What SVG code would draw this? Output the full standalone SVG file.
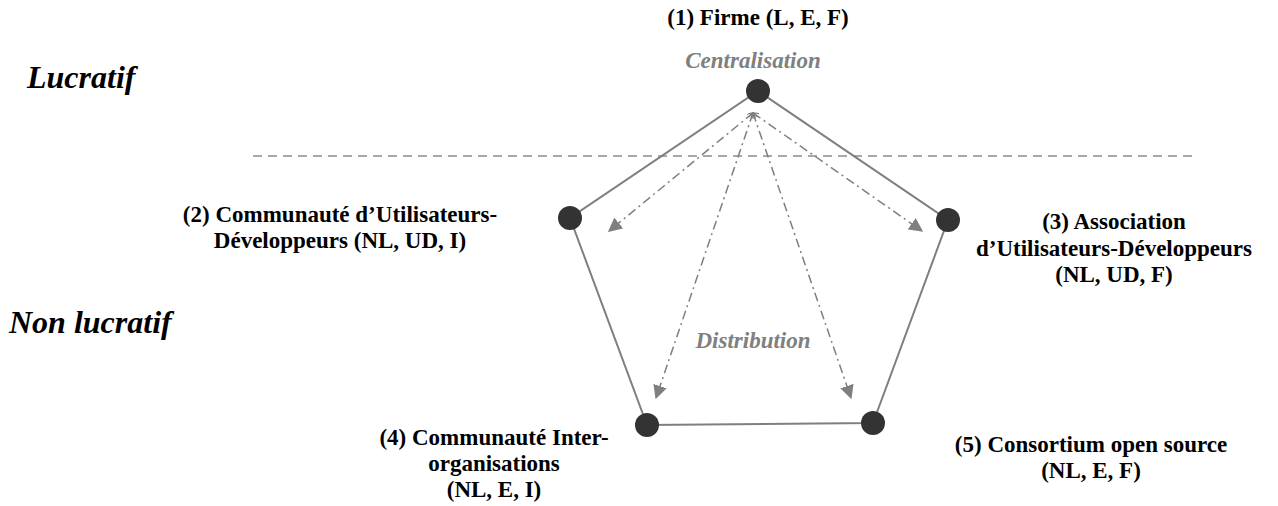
<svg xmlns="http://www.w3.org/2000/svg" width="1278" height="506" viewBox="0 0 1278 506">
<defs>
<marker id="ah" viewBox="0 0 10 10" refX="9" refY="5" markerWidth="14" markerHeight="14" markerUnits="userSpaceOnUse" orient="auto">
<path d="M0,0 L10,5 L0,10 z" fill="#7f7f7f"/>
</marker>
<marker id="at" viewBox="0 0 10 10" refX="1" refY="5" markerWidth="6" markerHeight="6" markerUnits="userSpaceOnUse" orient="auto">
<path d="M10,0 L0,5 L10,10" fill="none" stroke="#7f7f7f" stroke-width="2"/>
</marker>
</defs>
<rect width="1278" height="506" fill="#fff"/>
<g id="labels-side">
<text style="font-family:'Liberation Serif';font-size:32px;font-weight:700;font-style:italic" fill="#000" x="27" y="88">Lucratif</text>
<text style="font-family:'Liberation Serif';font-size:32px;font-weight:700;font-style:italic" fill="#000" x="9" y="333">Non lucratif</text>
</g>
<line x1="253" y1="156" x2="1198" y2="156" stroke="#8c8c8c" stroke-width="1.5" stroke-dasharray="9 6"/>
<g id="connectors" fill="none" stroke="#7f7f7f">
<polygon stroke-width="2" points="758,91 948,220 873,423 647,425 570,218"/>
<g stroke-width="1.5" stroke-dasharray="9 4 2 4">
<line x1="753" y1="113" x2="609" y2="231" marker-start="url(#at)" marker-end="url(#ah)"/>
<line x1="753" y1="113" x2="922" y2="231" marker-start="url(#at)" marker-end="url(#ah)"/>
<line x1="753" y1="113" x2="656" y2="398" marker-start="url(#at)" marker-end="url(#ah)"/>
<line x1="753" y1="113" x2="851" y2="398" marker-start="url(#at)" marker-end="url(#ah)"/>
</g>
</g>
<text style="font-family:'Liberation Serif';font-size:23px;font-weight:700;font-style:italic" fill="#808080" text-anchor="middle" x="753" y="68">Centralisation</text>
<text style="font-family:'Liberation Serif';font-size:23px;font-weight:700;font-style:italic" fill="#808080" text-anchor="middle" x="753" y="348">Distribution</text>
<g id="node1">
<circle fill="#333" cx="758" cy="91" r="12"/>
<text style="font-family:'Liberation Serif';font-size:23px;font-weight:700" fill="#000" text-anchor="middle" x="758" y="25">(1) Firme (L, E, F)</text>
</g>
<g id="node2">
<circle fill="#333" cx="570" cy="218" r="12"/>
<text style="font-family:'Liberation Serif';font-size:23px;font-weight:700" fill="#000" text-anchor="middle" x="340" y="222">(2) Communauté d’Utilisateurs-</text>
<text style="font-family:'Liberation Serif';font-size:23px;font-weight:700" fill="#000" text-anchor="middle" x="340" y="248">Développeurs (NL, UD, I)</text>
</g>
<g id="node3">
<circle fill="#333" cx="948" cy="220" r="12"/>
<text style="font-family:'Liberation Serif';font-size:23px;font-weight:700" fill="#000" text-anchor="middle" x="1114" y="229">(3) Association</text>
<text style="font-family:'Liberation Serif';font-size:23px;font-weight:700" fill="#000" text-anchor="middle" x="1114" y="256">d’Utilisateurs-Développeurs</text>
<text style="font-family:'Liberation Serif';font-size:23px;font-weight:700" fill="#000" text-anchor="middle" x="1114" y="282">(NL, UD, F)</text>
</g>
<g id="node4">
<circle fill="#333" cx="647" cy="425" r="12"/>
<text style="font-family:'Liberation Serif';font-size:23px;font-weight:700" fill="#000" text-anchor="middle" x="494" y="445">(4) Communauté Inter-</text>
<text style="font-family:'Liberation Serif';font-size:23px;font-weight:700" fill="#000" text-anchor="middle" x="494" y="471">organisations</text>
<text style="font-family:'Liberation Serif';font-size:23px;font-weight:700" fill="#000" text-anchor="middle" x="494" y="497">(NL, E, I)</text>
</g>
<g id="node5">
<circle fill="#333" cx="873" cy="423" r="12"/>
<text style="font-family:'Liberation Serif';font-size:23px;font-weight:700" fill="#000" text-anchor="middle" x="1091" y="452">(5) Consortium open source</text>
<text style="font-family:'Liberation Serif';font-size:23px;font-weight:700" fill="#000" text-anchor="middle" x="1091" y="478">(NL, E, F)</text>
</g>
</svg>
